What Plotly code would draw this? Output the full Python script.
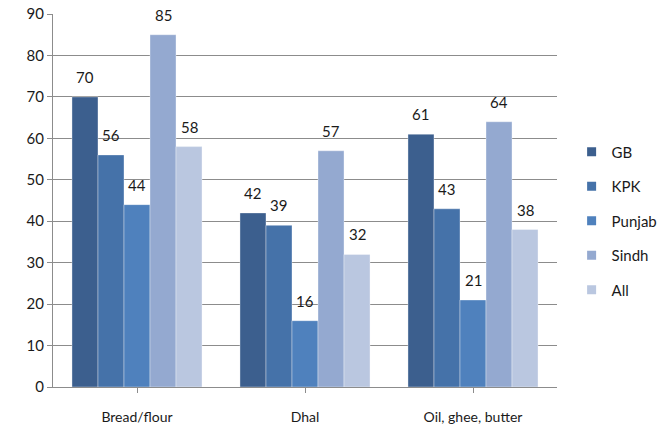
import plotly.graph_objects as go

categories = ["Bread/flour", "Dhal", "Oil, ghee, butter"]
regions = ["GB", "KPK", "Punjab", "Sindh", "All"]
gb = [70, 42, 61]
kpk = [56, 39, 43]
punjab = [44, 16, 21]
sindh = [85, 57, 64]
all_regions = [58, 32, 38]
series = [gb, kpk, punjab, sindh, all_regions]
colors = ["#3C5F8E", "#4572A9", "#4F81BD", "#94A9D0", "#BAC7E0"]

bargap = 0.226
font_family = "Lato, 'Open Sans', Arial, sans-serif"
text_color = "#1a1a1a"

fig = go.Figure()
for i, (name, vals) in enumerate(zip(regions, series)):
    fig.add_trace(go.Bar(
        name=name, x=list(range(len(categories))), y=vals,
        marker=dict(color=colors[i], line=dict(color="rgba(255,255,255,0.6)", width=0.6)),
        showlegend=False,
    ))

# small square legend keys
for i, name in enumerate(regions):
    fig.add_trace(go.Scatter(
        name=name, x=[None], y=[None], mode="markers",
        marker=dict(symbol="square", size=9, color=colors[i]),
        legendgroup=name, showlegend=True,
    ))

# value labels floating above each bar
n = len(series)
group_w = 1 - bargap
bar_w = group_w / n
annotations = []
for i, vals in enumerate(series):
    off = -group_w / 2 + (i + 0.5) * bar_w
    for j, v in enumerate(vals):
        annotations.append(dict(
            x=j + off, y=v, xref="x", yref="y", text=str(v),
            showarrow=False, yanchor="bottom", yshift=9,
            font=dict(size=15, color=text_color, family=font_family),
        ))

fig.update_layout(
    width=672, height=431,
    margin=dict(l=53, r=115, t=14, b=44, autoexpand=False),
    plot_bgcolor="white", paper_bgcolor="white",
    barmode="group", bargap=bargap, bargroupgap=0,
    font=dict(family=font_family, color=text_color),
    annotations=annotations,
    showlegend=True,
    legend=dict(
        x=1.029, y=0.445, xanchor="left", yanchor="middle",
        font=dict(size=15, color=text_color),
        tracegroupgap=12, itemwidth=30,
    ),
)
fig.update_xaxes(
    tickmode="array", tickvals=list(range(len(categories))), ticktext=categories,
    range=[-0.5, len(categories) - 0.5],
    showline=True, linecolor="#8c8c8c", linewidth=1.2,
    ticks="outside", ticklen=5, tickcolor="#8c8c8c",
    tickfont=dict(size=14), showgrid=False, ticklabelstandoff=12,
)
fig.update_xaxes(tickson="boundaries")
fig.update_yaxes(
    range=[0, 90], dtick=10, tick0=0,
    showline=True, linecolor="#8c8c8c", linewidth=1.2,
    ticks="outside", ticklen=5, tickcolor="#8c8c8c",
    showgrid=True, gridcolor="#8c8c8c", gridwidth=1,
    tickfont=dict(size=15), zeroline=False,
)

fig.write_html("out.html")
